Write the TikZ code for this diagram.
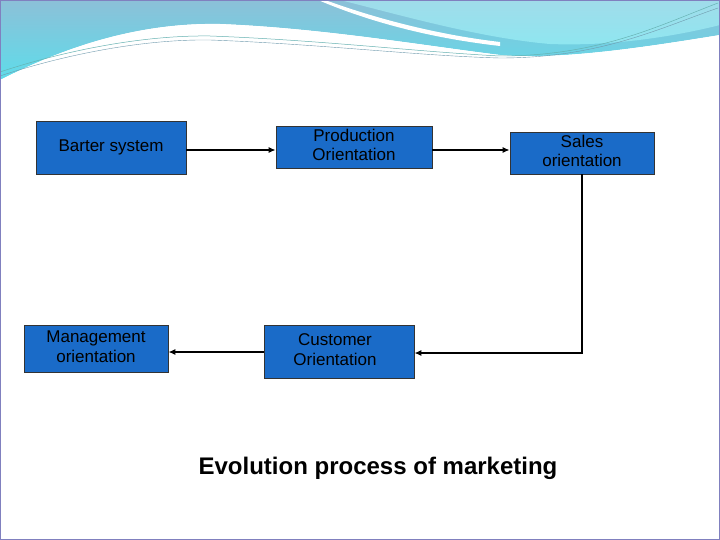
\documentclass[tikz,border=0pt]{standalone}
\usepackage{fontspec}
\setmainfont{Liberation Sans}
\usetikzlibrary{arrows.meta}
\definecolor{boxblue}{HTML}{1A6BC8}
\definecolor{waveA}{HTML}{8CC0D8}
\definecolor{waveB}{HTML}{5EDCEA}
\definecolor{waveC}{HTML}{A0DCEA}
\begin{document}
\begin{tikzpicture}[x=1pt,y=-1pt,
  box/.style={draw=black!80,fill=boxblue,line width=0.8pt,align=center,font=\fontsize{17}{19.5}\selectfont,inner sep=0pt},
  conn/.style={line width=1.3pt,-{Latex[length=7pt,width=6pt]}}]
\useasboundingbox (0,0) rectangle (720,540);
\fill[white] (0,0) rectangle (720,540);
% top waves
\shade[top color=waveA,bottom color=waveB] (0,0) -- (720,0) -- (720,35) .. controls (640,48) and (560,60) .. (500,55) .. controls (420,45) and (320,28) .. (220,24) .. controls (120,22) and (40,60) .. (0,80) -- cycle;
\fill[white] (325,0) .. controls (380,20) and (440,35) .. (500,42) -- (500,46) .. controls (430,38) and (370,22) .. (318,0) -- cycle;
\shade[top color=waveC,bottom color=waveB!70] (340,0) -- (720,0) -- (720,25) .. controls (660,40) and (600,46) .. (550,44) .. controls (480,38) and (400,15) .. (340,0) -- cycle;
\fill[white] (0,80) .. controls (40,60) and (120,22) .. (220,24) .. controls (320,28) and (420,45) .. (500,55) .. controls (560,60) and (640,48) .. (720,35) -- (720,540) -- (0,540) -- cycle;
\draw[teal!60,line width=0.5pt] (0,72) .. controls (60,52) and (140,35) .. (210,36) .. controls (320,40) and (420,52) .. (500,56) .. controls (600,56) and (660,25) .. (718,3);
\draw[waveA!80!black,line width=0.4pt] (0,76) .. controls (60,56) and (140,39) .. (210,40) .. controls (320,44) and (420,56) .. (500,58) .. controls (600,58) and (660,28) .. (718,8);
\draw[black!50!blue!50,line width=1pt] (0.5,0.5) rectangle (719.5,539.5);
% boxes
\node[box,minimum width=150pt,minimum height=53pt] (barter) at (111,147.5) {Barter system};
\node[box,minimum width=156pt,minimum height=42pt] (prod) at (354,147) {\raisebox{4pt}{\begin{tabular}{@{}c@{}}Production\\Orientation\end{tabular}}};
\node[box,minimum width=144pt,minimum height=42pt] (sales) at (582,153) {\begin{tabular}{@{}c@{}}Sales\\orientation\end{tabular}};
\node[box,minimum width=144pt,minimum height=47pt] (mgmt) at (96,348.5) {\raisebox{2pt}{\begin{tabular}{@{}c@{}}Management\\orientation\end{tabular}}};
\node[box,minimum width=150pt,minimum height=53pt] (cust) at (339,351.5) {\hspace*{-8pt}\begin{tabular}{@{}c@{}}Customer\\Orientation\end{tabular}};
\coordinate (corner) at (sales.south |- 0,353);
\draw[conn] (barter.east |- 0,150) -- (prod.west |- 0,150);
\draw[conn] (prod.east |- 0,150) -- (sales.west |- 0,150);
\draw[conn] (sales.south) -- (corner) -- (cust.east |- corner);
\draw[conn] (cust.west |- 0,352) -- (mgmt.east |- 0,352);
\node[font=\bfseries\fontsize{24}{28}\selectfont] (title) at (378,468) {Evolution process of marketing};
\end{tikzpicture}
\end{document}
